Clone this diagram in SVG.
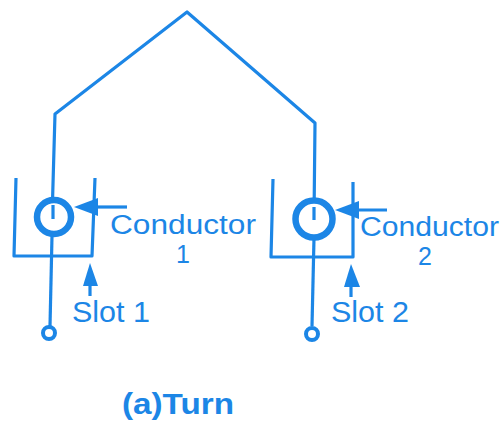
<svg xmlns="http://www.w3.org/2000/svg" width="501" height="422" viewBox="0 0 501 422">
<style>
.l{fill:none;stroke:#1c86e6;stroke-width:3.2;stroke-linejoin:round}
.c{fill:#fff;stroke:#1c86e6;stroke-width:6.5}
.t{fill:#fff;stroke:#1c86e6;stroke-width:4}
.a{fill:#1c86e6;stroke:none}
text{font-family:"Liberation Sans",Arial,sans-serif;fill:#1c86e6;font-size:29px}
.n{font-size:27px}
.d{font-size:25px}
</style>
<rect width="501" height="422" fill="#fff"/>
<g id="connectors">
<path class="l" d="M52 219L55 114L187 12L315 123L314 219"/>
<path class="l" d="M52 236L50 326"/>
<path class="l" d="M314 238L312 326"/>
</g>
<g id="slot1">
<path class="l" d="M16 178L14 256L92 256L95 178"/>
<path class="l" d="M96 207H127"/>
<path class="a" d="M74 207L98 198V216Z"/>
<path class="a" d="M90 263L98 286H83Z"/>
<path class="l" d="M90 280V296"/>
</g>
<g id="slot2">
<path class="l" d="M273 179L271 257L353 257L353 182"/>
<path class="l" d="M354 210H387"/>
<path class="a" d="M335 210L359 201V219Z"/>
<path class="a" d="M351 264L360 287H344Z"/>
<path class="l" d="M351 282V297"/>
</g>
<g id="conductor1">
<circle class="c" cx="54" cy="217" r="17"/>
<path class="l" d="M53 205V219"/>
<text class="n" x="110" y="234" textLength="146" lengthAdjust="spacingAndGlyphs">Conductor</text>
<text class="d" x="183" y="263" text-anchor="middle">1</text>
</g>
<g id="conductor2">
<circle class="c" cx="314" cy="219" r="18.5"/>
<path class="l" d="M314 207V220"/>
<text class="n" x="360" y="236" textLength="139" lengthAdjust="spacingAndGlyphs">Conductor</text>
<text class="d" x="425" y="265" text-anchor="middle">2</text>
</g>
<g id="terminal1"><circle class="t" cx="49" cy="333" r="6"/></g>
<g id="terminal2"><circle class="t" cx="312" cy="334" r="6"/></g>
<g id="label1"><text x="72" y="322" textLength="78" lengthAdjust="spacingAndGlyphs">Slot 1</text></g>
<g id="label2"><text x="331" y="322" textLength="78" lengthAdjust="spacingAndGlyphs">Slot 2</text></g>
<g id="caption"><text x="122" y="414" font-weight="700" textLength="112" lengthAdjust="spacingAndGlyphs">(a)Turn</text></g>
</svg>
